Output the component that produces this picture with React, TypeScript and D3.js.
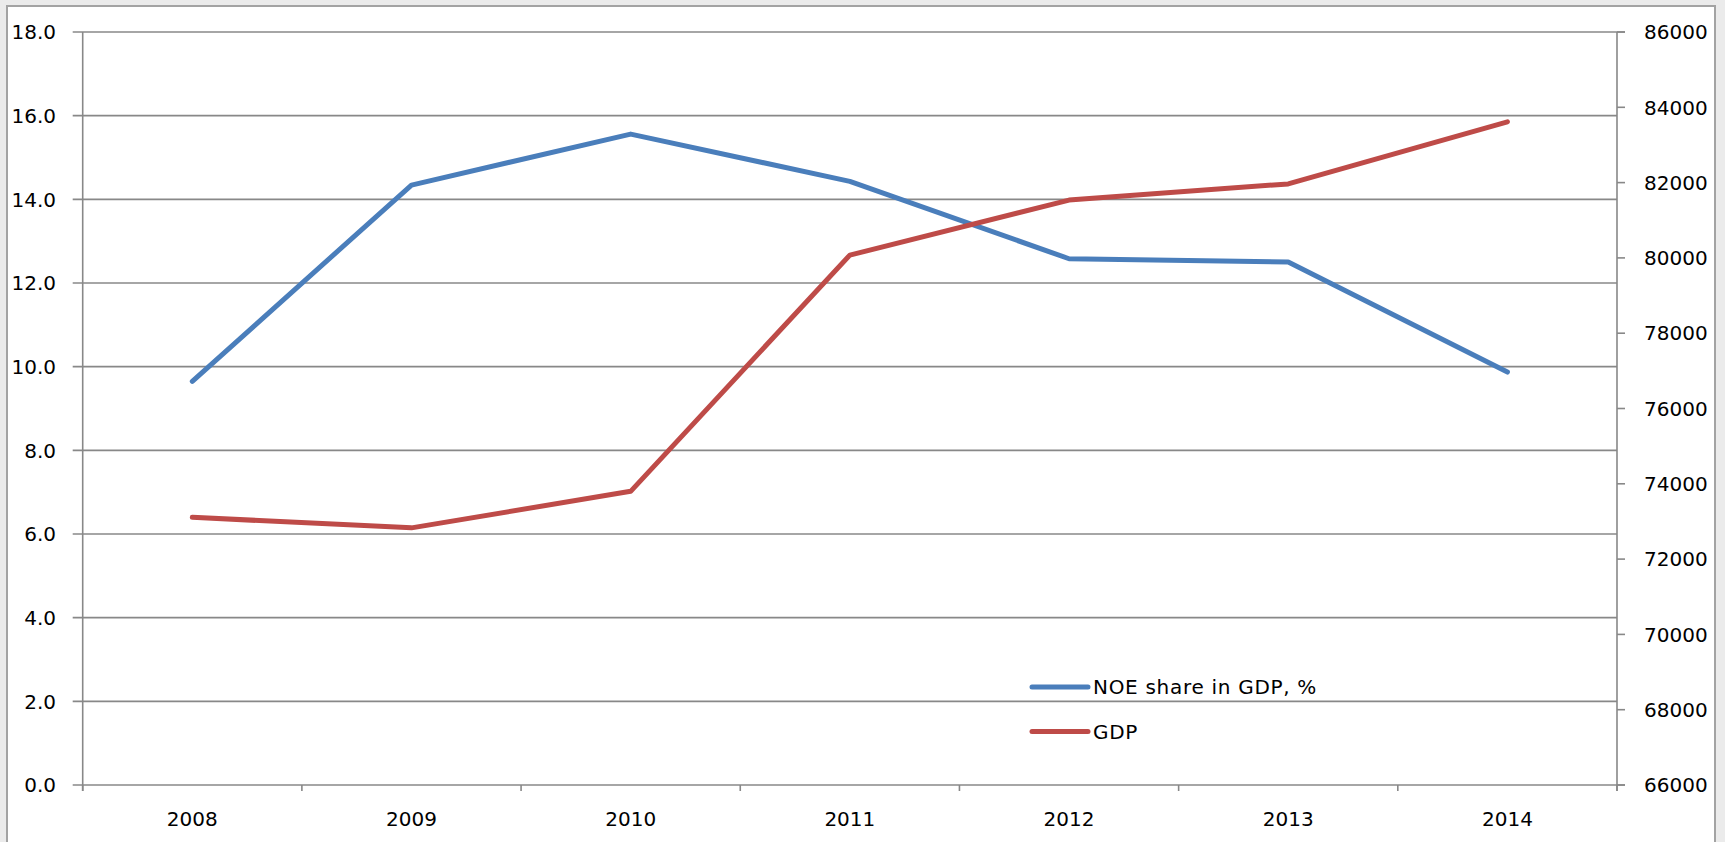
import React from 'react';
import * as d3 from 'd3';

const years = ['2008', '2009', '2010', '2011', '2012', '2013', '2014'];
const noeShare = [9.65, 14.34, 15.56, 14.43, 12.58, 12.5, 9.87];
const gdp = [73110, 72830, 73800, 80075, 81535, 81965, 83615];
const leftTicks = [0, 2, 4, 6, 8, 10, 12, 14, 16, 18];
const rightTicks = [66000, 68000, 70000, 72000, 74000, 76000, 78000, 80000, 82000, 84000, 86000];
const seriesNames = ['NOE share in GDP, %', 'GDP'];
const colors = ['#4a7ebb', '#be4b48'];

export default function App() {
  const W = 1725, H = 842;
  const left = 82.7, right = 1617, top = 32, bottom = 785;
  const x = d3.scaleBand<string>().domain(years).range([left, right]);
  const yL = d3.scaleLinear().domain([0, 18]).range([bottom, top]);
  const yR = d3.scaleLinear().domain([66000, 86000]).range([bottom, top]);
  const cx = (d: string) => (x(d) as number) + x.bandwidth() / 2;
  const lineL = d3.line<number>().x((_, i) => cx(years[i])).y((v) => yL(v));
  const lineR = d3.line<number>().x((_, i) => cx(years[i])).y((v) => yR(v));
  const font = "'DejaVu Sans', sans-serif";
  const grid = '#888888';
  const bounds = [...years.map((d) => x(d) as number), right];

  return (
    <svg width={W} height={H} style={{ position: 'absolute', left: 0, top: 0, display: 'block' }}>
      <rect x={0} y={0} width={W} height={H} fill="#ebebeb" />
      <rect x={7} y={6} width={1708} height={H} fill="#ffffff" stroke="#a3a3a3" strokeWidth={2} />
      {/* gridlines */}
      {leftTicks.map((t) => (
        <line key={'g' + t} x1={left - 10} x2={t === 0 || t === 18 ? right + 8 : right} y1={yL(t)} y2={yL(t)} stroke={grid} strokeWidth={1.6} />
      ))}
      {/* left axis */}
      <line x1={left} x2={left} y1={top} y2={bottom + 6} stroke={grid} strokeWidth={1.6} />
      {leftTicks.map((t) => (
        <text key={'l' + t} x={56} y={yL(t)} dy="0.36em" textAnchor="end" fontFamily={font} fontSize={20} fill="#000">
          {t.toFixed(1)}
        </text>
      ))}
      {/* right axis */}
      <line x1={right} x2={right} y1={top} y2={bottom + 6} stroke={grid} strokeWidth={1.6} />
      {rightTicks.map((t) => (
        <g key={'r' + t}>
          <line x1={right} x2={right + 8} y1={yR(t)} y2={yR(t)} stroke={grid} strokeWidth={1.6} />
          <text x={1644} y={yR(t)} dy="0.36em" textAnchor="start" fontFamily={font} fontSize={20} fill="#000">
            {t}
          </text>
        </g>
      ))}
      {/* x ticks */}
      {bounds.map((b, i) => (
        <line key={'xt' + i} x1={b} x2={b} y1={bottom} y2={bottom + 6} stroke={grid} strokeWidth={1.6} />
      ))}
      {years.map((d) => (
        <text key={'x' + d} x={cx(d)} y={826} textAnchor="middle" fontFamily={font} fontSize={20} fill="#000">
          {d}
        </text>
      ))}
      {/* series */}
      <path d={lineL(noeShare) || ''} fill="none" stroke={colors[0]} strokeWidth={5} strokeLinejoin="round" strokeLinecap="round" />
      <path d={lineR(gdp) || ''} fill="none" stroke={colors[1]} strokeWidth={5} strokeLinejoin="round" strokeLinecap="round" />
      {/* legend */}
      {seriesNames.map((n, i) => (
        <g key={'lg' + i}>
          <line x1={1032} x2={1088} y1={687 + i * 44.5} y2={687 + i * 44.5} stroke={colors[i]} strokeWidth={5} strokeLinecap="round" />
          <text x={1093} y={687 + i * 44.5} dy="0.36em" fontFamily={font} fontSize={20} letterSpacing={0.7} fill="#000">
            {n}
          </text>
        </g>
      ))}
    </svg>
  );
}
